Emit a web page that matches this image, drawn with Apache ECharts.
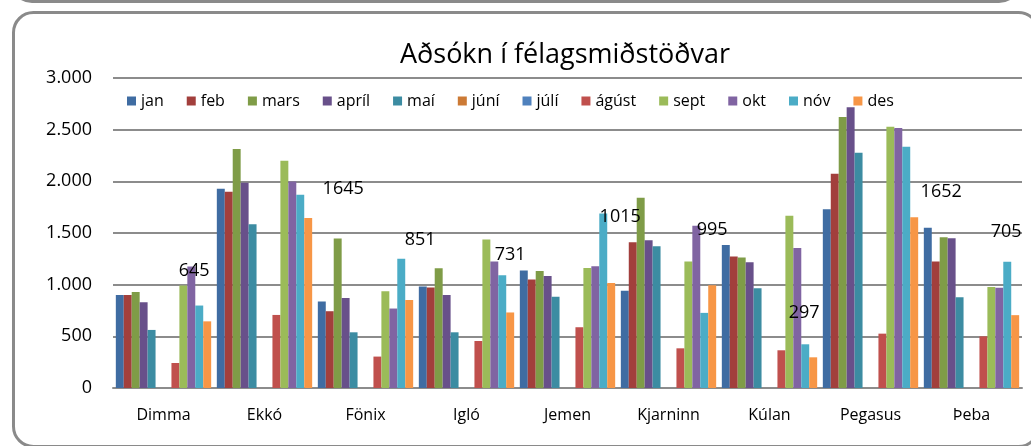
<!DOCTYPE html>
<html>
<head>
<meta charset="utf-8">
<script src="https://cdn.jsdelivr.net/npm/echarts@6/dist/echarts.min.js"></script>
<style>
html,body{margin:0;padding:0;background:#fff;}
#chart{width:1031px;height:446px;}
</style>
</head>
<body>
<div id="chart"></div>
<script>
const categories = ['Dimma','Ekkó','Fönix','Igló','Jemen','Kjarninn','Kúlan','Pegasus','Þeba'];
const seriesNames = ['jan','feb','mars','apríl','maí','júní','júlí','ágúst','sept','okt','nóv','des'];
const jan   = [900, 1928, 836, 982, 1137, 940, 1385, 1731, 1550];
const feb   = [900, 1899, 743, 972, 1049, 1411, 1272, 2073, 1224];
const mars  = [930, 2312, 1447, 1159, 1133, 1841, 1263, 2622, 1460];
const april = [830, 1986, 872, 901, 1085, 1430, 1217, 2716, 1450];
const mai   = [562, 1585, 539, 539, 882, 1372, 965, 2276, 878];
const juni  = [null, null, null, null, null, null, null, null, null];
const juli  = [null, null, null, null, null, null, null, null, null];
const agust = [242, 707, 304, 455, 588, 384, 365, 526, 500];
const sept  = [991, 2199, 936, 1437, 1162, 1224, 1666, 2528, 978];
const okt   = [1175, 1999, 769, 1224, 1179, 1569, 1356, 2515, 969];
const nov   = [798, 1870, 1250, 1091, 1689, 727, 423, 2335, 1221];
const des   = [645, 1645, 851, 731, 1015, 995, 297, 1652, 705];
const yTicks = ['0','500','1.000','1.500','2.000','2.500','3.000'];

const allData = [jan, feb, mars, april, mai, juni, juli, agust, sept, okt, nov, des];
const colors = ['#3F6CA2','#A23F3C','#7F9C47','#68508A','#3C8CA2','#CC7A35',
                '#4F81BD','#C0504D','#9BBB59','#8064A2','#4BACC6','#F79646'];
// manual label placement (dragged labels in the original)
const labelShift = [[-13,-41],[35,-20],[11,-51],[0,-49],[9,-57],[0,-46],[-9,-35],[27,-16],[-9,-74]];

const FONT = 'Open Sans';
const series = seriesNames.map((name, i) => {
  const s = {
    name: name,
    type: 'bar',
    barGap: '0%',
    barCategoryGap: '5.6%',
    itemStyle: { color: colors[i] },
    data: allData[i]
  };
  if (name === 'des') {
    s.data = allData[i].map((v, k) => ({
      value: v,
      label: { show: true, position: 'top', distance: 0, offset: labelShift[k],
               fontFamily: FONT, fontSize: 18, lineHeight: 18, color: '#000' }
    }));
  }
  return s;
});

const chart = echarts.init(document.getElementById('chart'));
chart.setOption({
  animation: false,
  color: colors,
  textStyle: { fontFamily: FONT },
  title: {
    text: 'Aðsókn í félagsmiðstöðvar',
    left: 400, top: 42,
    padding: [0, 0, 0, 0],
    textStyle: { fontFamily: FONT, fontSize: 27, fontWeight: 'normal', color: '#000' }
  },
  legend: {
    left: 127, top: 93, padding: 0,
    itemWidth: 9, itemHeight: 9, itemGap: 23,
    icon: 'rect',
    textStyle: { fontFamily: FONT, fontSize: 16, color: '#000' },
    data: seriesNames
  },
  grid: { left: 113, right: 9, top: 78, bottom: 58 },
  xAxis: {
    type: 'category',
    data: categories,
    axisTick: { show: false },
    axisLine: { lineStyle: { color: '#8c8c8c', width: 2 } },
    axisLabel: { fontFamily: FONT, fontSize: 16, color: '#000', margin: 19 }
  },
  yAxis: {
    type: 'value',
    min: 0, max: 3000, interval: 500,
    axisLine: { show: false },
    axisTick: { show: false },
    splitLine: { lineStyle: { color: '#8c8c8c', width: 2 } },
    axisLabel: {
      fontFamily: FONT, fontSize: 18, color: '#000', margin: 21,
      formatter: (v) => yTicks[Math.round(v / 500)]
    }
  },
  graphic: [
    { type: 'rect', silent: true, z: 100,
      shape: { x: 13.5, y: 12.5, width: 1025, height: 434, r: 20 },
      style: { fill: 'none', stroke: '#8a8a8a', lineWidth: 3 } },
    { type: 'rect', silent: true, z: 100,
      shape: { x: 12, y: -400, width: 1007, height: 401.5, r: 20 },
      style: { fill: 'none', stroke: '#8a8a8a', lineWidth: 3 } }
  ],
  series: series
});
</script>
</body>
</html>
